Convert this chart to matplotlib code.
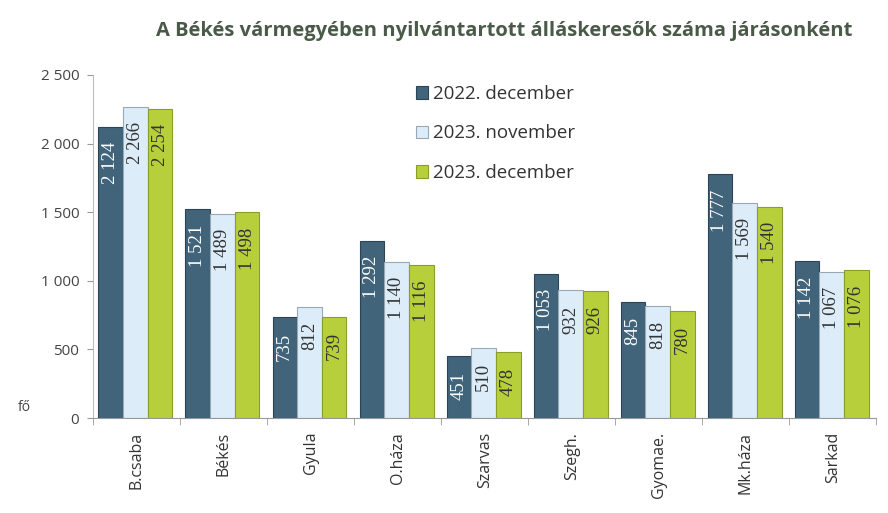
import numpy as np
import matplotlib.pyplot as plt
from matplotlib.ticker import FixedLocator, FuncFormatter

# data
jarasok = ["B.csaba", "Békés", "Gyula", "O.háza", "Szarvas", "Szegh.", "Gyomae.", "Mk.háza", "Sarkad"]
dec_2022 = [2124, 1521, 735, 1292, 451, 1053, 845, 1777, 1142]
nov_2023 = [2266, 1489, 812, 1140, 510, 932, 818, 1569, 1067]
dec_2023 = [2254, 1498, 739, 1116, 478, 926, 780, 1540, 1076]
series_names = ["2022. december", "2023. november", "2023. december"]

colors = ["#41647a", "#dcecf8", "#b8cf3c"]
edges = ["#2b4556", "#9aa8b2", "#8a9c2a"]
label_colors = ["white", "#333333", "#333333"]

def fmt(v):
    return f"{v:,}".replace(",", " ")

fig = plt.figure(figsize=(8.88, 5.13), dpi=100)
ax = fig.add_axes([0.105, 0.185, 0.882, 0.669])

x = np.arange(len(jarasok))
w = 0.28
offsets = [-0.30, -0.015, 0.27]
for k, vals in enumerate([dec_2022, nov_2023, dec_2023]):
    bars = ax.bar(x + offsets[k], vals, width=w, color=colors[k], edgecolor=edges[k],
                  linewidth=0.8, label=series_names[k], zorder=2)
    for b, v in zip(bars, vals):
        ax.annotate(fmt(v), (b.get_x() + b.get_width() / 2, v), xytext=(0, -11),
                    textcoords="offset points", rotation=90, ha="center", va="top",
                    fontsize=13.5, family="Liberation Serif", color=label_colors[k], zorder=3)

ax.set_xlim(-0.5, len(jarasok) - 0.5)
ax.set_ylim(0, 2500)
ax.set_yticks(range(0, 2501, 500))
ax.yaxis.set_major_formatter(FuncFormatter(lambda v, p: fmt(int(v))))
ax.set_xticks(x)
ax.set_xticklabels(jarasok, rotation=90, fontsize=11.5, family="Open Sans", color="#333333")
ax.tick_params(axis="x", length=0, pad=10)
ax.xaxis.set_minor_locator(FixedLocator(np.arange(-0.5, len(jarasok), 1.0)))
ax.tick_params(axis="x", which="minor", length=5, color="#999999")
ax.tick_params(axis="y", length=4, color="#999999", labelsize=11, labelcolor="#444444", pad=6)
for lab in ax.get_yticklabels():
    lab.set_family("Open Sans")

for s in ["top", "right"]:
    ax.spines[s].set_visible(False)
ax.spines["left"].set_color("#bbbbbb")
ax.spines["bottom"].set_color("#999999")

fig.text(0.02, 0.198, "fő", fontsize=10, family="Open Sans", color="#444444")
fig.text(0.568, 0.93, "A Békés vármegyében nyilvántartott álláskeresők száma járásonként",
         ha="center", fontsize=14.5, fontweight="bold", family="Open Sans", color="#4a5a48")

leg = ax.legend(loc="upper left", bbox_to_anchor=(0.39, 1.02), frameon=False,
                prop={"family": "Open Sans", "size": 13.5}, labelspacing=1.15,
                handlelength=0.65, handleheight=0.65, handletextpad=0.3, labelcolor="#333333")

fig.savefig("out.png", dpi=100)
